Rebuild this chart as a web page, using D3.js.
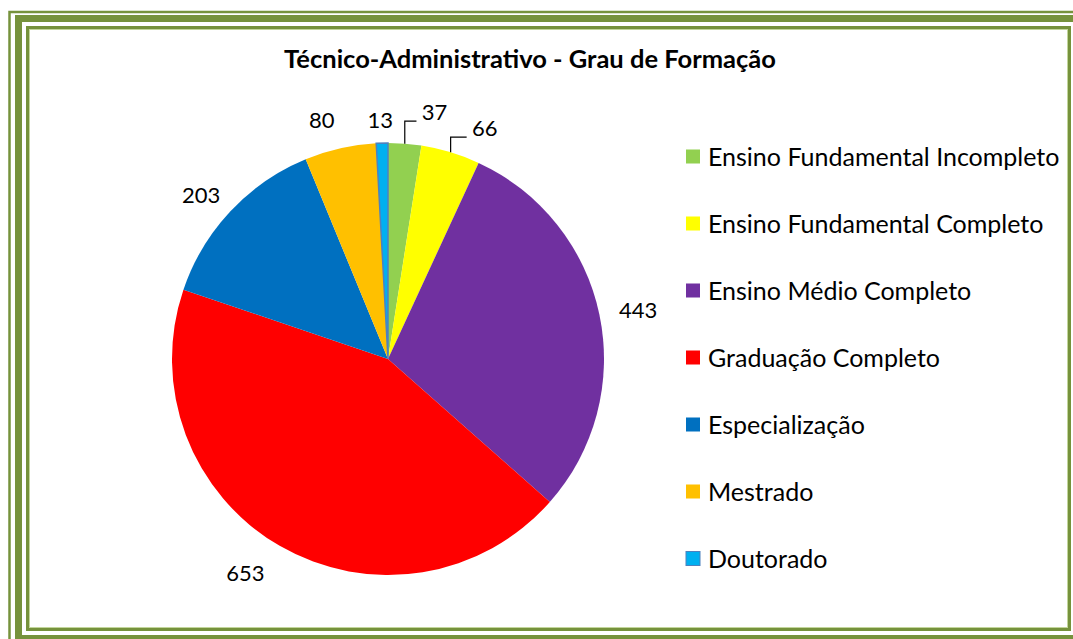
<!DOCTYPE html>
<html>
<head>
<meta charset="utf-8">
<script src="https://cdn.jsdelivr.net/npm/d3@7"></script>
<style>
  body { margin: 0; background: #fff; }
  svg text { font-family: Lato, "Open Sans", sans-serif; fill: #000; }
</style>
</head>
<body>
<svg id="chart"></svg>
<script>
// chart data
const categories = [
  'Ensino Fundamental Incompleto',
  'Ensino Fundamental Completo',
  'Ensino Médio Completo',
  'Graduação Completo',
  'Especialização',
  'Mestrado',
  'Doutorado'
];
const values = [37, 66, 443, 653, 203, 80, 13];
const colors = ['#92D050', '#FFFF00', '#7030A0', '#FF0000', '#0070C0', '#FFC000', '#00B0F0'];
const chartTitle = 'Técnico-Administrativo - Grau de Formação';

const width = 1073, height = 639;
const cx = 388, cy = 359, radius = 216;
// small shifts of the data labels (Excel best-fit placement, two moved by hand)
const labelNudge = [[27, 3], [24, 9], [5, 3], [-17, -2], [-4, 8], [-11, 6], [-1, 12]];
const leader = [true, true, false, false, false, false, false];

const svg = d3.select('#chart')
  .attr('width', width)
  .attr('height', height);

// page border (thin / thick / thin)
const green = '#76923C';
svg.append('rect').attr('x', 9.5).attr('y', 12).attr('width', 1100).attr('height', 700)
  .attr('fill', 'none').attr('stroke', green).attr('stroke-width', 2.5);
svg.append('rect').attr('x', 18.5).attr('y', 18.5).attr('width', 1100).attr('height', 620)
  .attr('fill', 'none').attr('stroke', green).attr('stroke-width', 7);
svg.append('rect').attr('x', 27.5).attr('y', 27.5).attr('width', 1042).attr('height', 602)
  .attr('fill', 'none').attr('stroke', green).attr('stroke-width', 3);
svg.append('rect').attr('x', 29.5).attr('y', 29.5).attr('width', 1038).attr('height', 598)
  .attr('fill', 'none').attr('stroke', '#C3D69B').attr('stroke-width', 1);

svg.append('text')
  .attr('x', 530)
  .attr('y', 68)
  .attr('text-anchor', 'middle')
  .style('font-weight', 'bold')
  .style('font-size', '25.5px')
  .text(chartTitle);

const data = categories.map((c, i) => ({ name: c, value: values[i], color: colors[i], i }));

const pie = d3.pie().sort(null).value(d => d.value);
const arcs = pie(data);
const arc = d3.arc().innerRadius(0).outerRadius(radius);

const g = svg.append('g').attr('transform', `translate(${cx},${cy})`);

g.selectAll('path.slice')
  .data(arcs)
  .join('path')
  .attr('class', 'slice')
  .attr('d', arc)
  .attr('fill', d => d.data.color)
  .attr('stroke', d => d.data.name === 'Doutorado' ? '#4F81BD' : 'none')
  .attr('stroke-width', 1.5);

// data labels
const labelArc = d3.arc().innerRadius(radius * 1.16).outerRadius(radius * 1.16);
const labelPos = d => {
  const [x, y] = labelArc.centroid(d);
  const n = labelNudge[d.data.i];
  return [x + n[0], y + n[1]];
};

g.selectAll('text.lbl')
  .data(arcs)
  .join('text')
  .attr('class', 'lbl')
  .attr('transform', d => `translate(${labelPos(d)})`)
  .attr('text-anchor', 'middle')
  .attr('dy', '0.35em')
  .style('font-size', '22px')
  .text(d => d.data.value);

// leader lines for the moved labels
arcs.filter(d => leader[d.data.i]).forEach(d => {
  const mid = (d.startAngle + d.endAngle) / 2;
  const x0 = Math.sin(mid) * radius, y0 = -Math.cos(mid) * radius;
  const [tx, ty] = labelPos(d);
  g.append('path')
    .attr('d', `M${x0},${y0}V${ty + 9}H${tx - 18}`)
    .attr('fill', 'none')
    .attr('stroke', '#000')
    .attr('stroke-width', 1.2);
});

// legend
const legend = svg.append('g').attr('transform', 'translate(686,157)');
const items = legend.selectAll('g')
  .data(data)
  .join('g')
  .attr('transform', (d, i) => `translate(0,${i * 67})`);

items.append('rect')
  .attr('x', 0)
  .attr('y', -7.5)
  .attr('width', 14)
  .attr('height', 14)
  .attr('fill', d => d.color)
  .attr('stroke', d => d.name === 'Doutorado' ? '#4F81BD' : 'none')
  .attr('stroke-width', 1);

items.append('text')
  .attr('x', 22)
  .attr('y', 0)
  .attr('dy', '0.35em')
  .style('font-size', '25px')
  .text(d => d.name);
</script>
</body>
</html>
